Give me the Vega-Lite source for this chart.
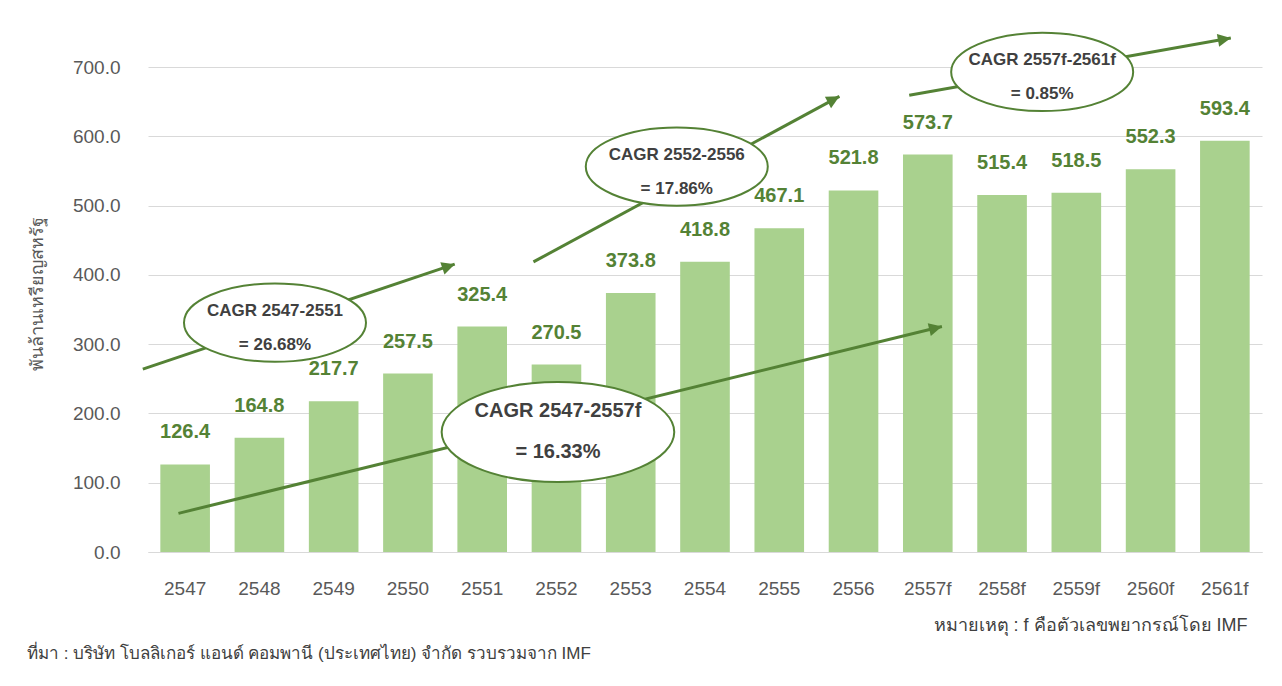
{
  "$schema": "https://vega.github.io/schema/vega-lite/v6.json",
  "autosize": {"type": "none"},
  "width": 1114,
  "height": 485,
  "padding": {"left": 148, "top": 67, "right": 20, "bottom": 134},
  "background": "white",
  "config": {
    "view": {"stroke": null},
    "font": "Liberation Sans",
    "axis": {"labelFont": "Liberation Sans", "titleFont": "Liberation Sans"}
  },
  "title": {
    "text": "ที่มา : บริษัท โบลลิเกอร์ แอนด์ คอมพานี (ประเทศไทย) จำกัด รวบรวมจาก IMF",
    "orient": "bottom",
    "anchor": "start",
    "frame": "group",
    "dx": -121,
    "offset": 12,
    "fontSize": 17,
    "fontWeight": "normal",
    "color": "#404040"
  },
  "datasets": {
    "bars": [
      {"year": "2547", "value": 126.4},
      {"year": "2548", "value": 164.8},
      {"year": "2549", "value": 217.7},
      {"year": "2550", "value": 257.5},
      {"year": "2551", "value": 325.4},
      {"year": "2552", "value": 270.5},
      {"year": "2553", "value": 373.8},
      {"year": "2554", "value": 418.8},
      {"year": "2555", "value": 467.1},
      {"year": "2556", "value": 521.8},
      {"year": "2557f", "value": 573.7},
      {"year": "2558f", "value": 515.4},
      {"year": "2559f", "value": 518.5},
      {"year": "2560f", "value": 552.3},
      {"year": "2561f", "value": 593.4}
    ],
    "arrows": [
      {"arrow": "a1", "x": -0.57, "y": 264.0, "x2": 3.63, "y2": 415.4},
      {"arrow": "a2", "x": 4.69, "y": 418.7, "x2": 8.81, "y2": 657.7},
      {"arrow": "a3", "x": 9.75, "y": 659.2, "x2": 14.08, "y2": 741.8},
      {"arrow": "a4", "x": -0.09, "y": 55.8, "x2": 10.19, "y2": 325.4}
    ],
    "notes": [
      {"kind": "period", "label": "CAGR 2547-2551\n= 26.68%", "x": 1.21, "y": 331.0},
      {"kind": "overall", "label": "CAGR 2547-2557f\n= 16.33%", "x": 5.02, "y": 173.1},
      {"kind": "period", "label": "CAGR 2552-2556\n= 17.86%", "x": 6.62, "y": 556.3},
      {"kind": "period", "label": "CAGR 2557f-2561f\n= 0.85%", "x": 11.54, "y": 692.8}
    ]
  },
  "resolve": {"scale": {"x": "independent"}},
  "layer": [
    {
      "data": {"name": "bars"},
      "mark": {"type": "bar", "color": "#A9D18E"},
      "encoding": {
        "x": {
          "field": "year", "type": "nominal", "sort": null,
          "scale": {"paddingInner": 0.332, "paddingOuter": 0.166},
          "axis": {
            "labelAngle": 0, "labelFontSize": 19, "labelColor": "#595959", "labelPadding": 27,
            "domain": true, "domainColor": "#d9d9d9", "ticks": false,
            "title": "หมายเหตุ : f คือตัวเลขพยากรณ์โดย IMF",
            "titleFontSize": 18, "titleFontWeight": "normal", "titleColor": "#404040",
            "titleAnchor": "end", "titleAlign": "right", "titleX": 1099, "titleY": 73, "titleBaseline": "middle"
          }
        },
        "y": {
          "field": "value", "type": "quantitative",
          "scale": {"domain": [0, 700], "nice": false},
          "axis": {
            "values": [0, 100, 200, 300, 400, 500, 600, 700],
            "format": ".1f", "grid": true, "gridColor": "#d9d9d9", "domain": false, "ticks": false,
            "labelFontSize": 19, "labelColor": "#595959", "labelPadding": 28,
            "title": "พันล้านเหรียญสหรัฐ", "titleFontSize": 18, "titleFontWeight": "normal",
            "titleColor": "#595959", "titlePadding": 26, "titleY": 226
          }
        }
      }
    },
    {
      "data": {"name": "bars"},
      "mark": {"type": "text", "color": "#548235", "fontSize": 20, "fontWeight": "bold", "baseline": "middle", "dy": -32},
      "encoding": {
        "x": {"field": "year", "type": "nominal", "sort": null, "scale": {"paddingInner": 0.332, "paddingOuter": 0.166}, "axis": null},
        "y": {"field": "value", "type": "quantitative", "title": "พันล้านเหรียญสหรัฐ"},
        "text": {"field": "value", "type": "quantitative", "format": ".1f"}
      }
    },
    {
      "data": {"name": "arrows"},
      "mark": {"type": "rule", "color": "#548235", "strokeWidth": 3},
      "encoding": {
        "x": {"field": "x", "type": "quantitative", "scale": {"domain": [-0.5, 14.5], "nice": false, "zero": false}, "axis": null},
        "x2": {"field": "x2"},
        "y": {"field": "y", "type": "quantitative", "title": "พันล้านเหรียญสหรัฐ"},
        "y2": {"field": "y2"}
      }
    },
    {
      "data": {"name": "arrows"},
      "mark": {"type": "point", "shape": "M 0 0 L 0.5 1 L -0.5 1 Z", "filled": true, "color": "#548235", "opacity": 1, "size": 676},
      "encoding": {
        "x": {"field": "x2", "type": "quantitative", "scale": {"domain": [-0.5, 14.5], "nice": false, "zero": false}, "axis": null},
        "y": {"field": "y2", "type": "quantitative", "title": "พันล้านเหรียญสหรัฐ"},
        "angle": {
          "condition": [
            {"test": "datum.arrow === 'a1'", "value": 71.4},
            {"test": "datum.arrow === 'a2'", "value": 61.6},
            {"test": "datum.arrow === 'a3'", "value": 79.9}
          ],
          "value": 76.2
        }
      }
    },
    {
      "data": {"name": "notes"},
      "mark": {"type": "point", "shape": "M -1 0 A 1 0.43 0 1 0 1 0 A 1 0.43 0 1 0 -1 0 Z", "filled": false, "fill": "white", "fillOpacity": 1, "stroke": "#548235", "strokeWidth": 2, "opacity": 1},
      "encoding": {
        "x": {"field": "x", "type": "quantitative", "scale": {"domain": [-0.5, 14.5], "nice": false, "zero": false}, "axis": null},
        "y": {"field": "y", "type": "quantitative", "title": "พันล้านเหรียญสหรัฐ"},
        "size": {"condition": {"test": "datum.kind === 'overall'", "value": 54103}, "value": 33124}
      }
    },
    {
      "data": {"name": "notes"},
      "transform": [{"filter": "datum.kind === 'period'"}],
      "mark": {"type": "text", "color": "#404040", "fontSize": 17, "fontWeight": "bold", "baseline": "middle", "lineBreak": "\n", "lineHeight": 34, "dy": -12},
      "encoding": {
        "x": {"field": "x", "type": "quantitative", "scale": {"domain": [-0.5, 14.5], "nice": false, "zero": false}, "axis": null},
        "y": {"field": "y", "type": "quantitative", "title": "พันล้านเหรียญสหรัฐ"},
        "text": {"field": "label"}
      }
    },
    {
      "data": {"name": "notes"},
      "transform": [{"filter": "datum.kind === 'overall'"}],
      "mark": {"type": "text", "color": "#404040", "fontSize": 20, "fontWeight": "bold", "baseline": "middle", "lineBreak": "\n", "lineHeight": 41, "dy": -21},
      "encoding": {
        "x": {"field": "x", "type": "quantitative", "scale": {"domain": [-0.5, 14.5], "nice": false, "zero": false}, "axis": null},
        "y": {"field": "y", "type": "quantitative", "title": "พันล้านเหรียญสหรัฐ"},
        "text": {"field": "label"}
      }
    }
  ]
}
